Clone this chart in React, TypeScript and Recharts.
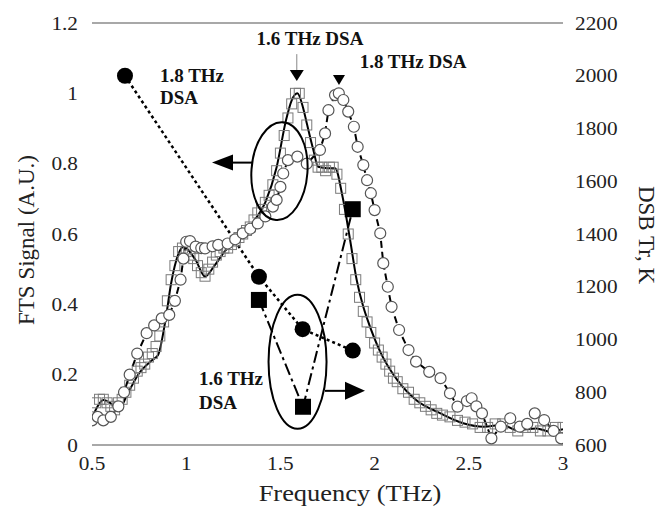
import { ComposedChart, Line, XAxis, YAxis, ReferenceLine, ReferenceDot } from 'recharts'

// FTS signal, 1.6 THz DSA: smoothed fit line (solid) [THz, A.U.]
const fit16: [number, number][] = [
  [0.5, 0.076], [0.53, 0.11], [0.56, 0.128], [0.6, 0.118], [0.64, 0.1], [0.69, 0.147],
  [0.75, 0.204], [0.82, 0.242], [0.85, 0.255], [0.89, 0.355], [0.92, 0.46], [0.96, 0.545],
  [0.985, 0.564], [1.05, 0.526], [1.1, 0.479], [1.15, 0.51], [1.21, 0.554], [1.28, 0.583],
  [1.35, 0.63], [1.42, 0.69], [1.48, 0.79], [1.53, 0.924], [1.56, 0.98], [1.59, 1.0],
  [1.62, 0.96], [1.64, 0.915], [1.675, 0.839], [1.7, 0.791], [1.75, 0.787], [1.79, 0.787],
  [1.83, 0.706], [1.87, 0.583], [1.905, 0.469], [1.94, 0.393], [1.96, 0.36], [2.03, 0.265],
  [2.12, 0.185], [2.22, 0.128], [2.35, 0.09], [2.47, 0.062], [2.58, 0.052], [2.68, 0.057],
  [2.75, 0.043], [2.86, 0.047], [2.93, 0.038], [3.0, 0.045],
]

// FTS signal, 1.6 THz DSA: measured points (open squares)
const meas16: [number, number][] = [
  [0.5, 0.08], [0.52, 0.12], [0.54, 0.13], [0.56, 0.13], [0.58, 0.12], [0.6, 0.11], [0.62, 0.1],
  [0.64, 0.12], [0.66, 0.13], [0.68, 0.15], [0.7, 0.17], [0.72, 0.19], [0.74, 0.21], [0.76, 0.22],
  [0.78, 0.23], [0.8, 0.25], [0.82, 0.26], [0.84, 0.28], [0.86, 0.31], [0.88, 0.35], [0.9, 0.41],
  [0.92, 0.47], [0.94, 0.51], [0.96, 0.55], [0.98, 0.56], [1.0, 0.55], [1.02, 0.54], [1.04, 0.53],
  [1.06, 0.51], [1.08, 0.49], [1.1, 0.48], [1.12, 0.5], [1.14, 0.52], [1.16, 0.54], [1.18, 0.55],
  [1.2, 0.56], [1.22, 0.56], [1.24, 0.57], [1.26, 0.58], [1.28, 0.59], [1.3, 0.6], [1.32, 0.61],
  [1.34, 0.62], [1.36, 0.64], [1.38, 0.66], [1.4, 0.67], [1.42, 0.69], [1.44, 0.71], [1.46, 0.74],
  [1.48, 0.78], [1.5, 0.83], [1.52, 0.88], [1.54, 0.93], [1.56, 0.97], [1.58, 1.0], [1.6, 1.0],
  [1.62, 0.96], [1.64, 0.91], [1.66, 0.86], [1.68, 0.81], [1.7, 0.79], [1.72, 0.79], [1.74, 0.78],
  [1.76, 0.79], [1.78, 0.79], [1.8, 0.77], [1.82, 0.73], [1.84, 0.67], [1.86, 0.6], [1.88, 0.53],
  [1.9, 0.47], [1.92, 0.42], [1.94, 0.38], [1.96, 0.35], [1.98, 0.32], [2.0, 0.29], [2.02, 0.27],
  [2.04, 0.25], [2.06, 0.23], [2.08, 0.21], [2.1, 0.19], [2.12, 0.18], [2.15, 0.16], [2.18, 0.15],
  [2.21, 0.13], [2.24, 0.12], [2.27, 0.11], [2.3, 0.1], [2.33, 0.09], [2.36, 0.085], [2.4, 0.08],
  [2.44, 0.07], [2.48, 0.065], [2.52, 0.06], [2.56, 0.05], [2.6, 0.05], [2.64, 0.06], [2.68, 0.06],
  [2.72, 0.05], [2.76, 0.04], [2.8, 0.05], [2.84, 0.05], [2.88, 0.04], [2.92, 0.04], [2.96, 0.05],
  [3.0, 0.05],
]

// FTS signal, 1.8 THz DSA (open circles, dashed)
const meas18: [number, number][] = [
  [0.5, 0.07], [0.53, 0.08], [0.56, 0.07], [0.6, 0.08], [0.64, 0.11], [0.67, 0.15], [0.7, 0.2],
  [0.74, 0.26], [0.79, 0.318], [0.83, 0.34], [0.87, 0.36], [0.91, 0.37], [0.94, 0.41], [0.97, 0.47],
  [0.985, 0.53], [1.0, 0.578], [1.02, 0.58], [1.05, 0.564], [1.08, 0.56], [1.1, 0.559], [1.14, 0.565],
  [1.17, 0.569], [1.22, 0.573], [1.26, 0.585], [1.3, 0.602], [1.34, 0.615], [1.38, 0.63], [1.42, 0.65],
  [1.46, 0.678], [1.48, 0.697], [1.5, 0.734], [1.515, 0.772], [1.54, 0.81], [1.59, 0.82], [1.64, 0.8],
  [1.71, 0.839], [1.737, 0.886], [1.755, 0.952], [1.79, 0.995], [1.81, 1.0], [1.834, 0.981],
  [1.86, 0.948], [1.89, 0.905], [1.91, 0.848], [1.94, 0.796], [1.96, 0.753], [1.98, 0.716],
  [2.0, 0.668], [2.03, 0.602], [2.046, 0.517], [2.07, 0.45], [2.09, 0.393], [2.13, 0.327],
  [2.18, 0.27], [2.22, 0.237], [2.29, 0.208], [2.35, 0.19], [2.4, 0.147], [2.44, 0.109],
  [2.49, 0.125], [2.515, 0.133], [2.54, 0.11], [2.57, 0.09], [2.62, 0.019], [2.67, 0.052],
  [2.72, 0.076], [2.77, 0.052], [2.81, 0.06], [2.85, 0.09], [2.9, 0.071], [2.95, 0.04], [2.99, 0.019],
]

// DSB receiver noise temperature [THz, K]
const tr18: [number, number][] = [[0.675, 2000], [1.386, 1238], [1.618, 1039], [1.884, 958]]
const tr16: [number, number][] = [[1.386, 1150], [1.62, 745], [1.884, 1494]]

const freqTicks = [0.5, 1, 1.5, 2, 2.5, 3]
const signalTicks = [0, 0.2, 0.4, 0.6, 0.8, 1, 1.2]
const trTicks = [600, 800, 1000, 1200, 1400, 1600, 1800, 2000, 2200]

// annotation anchors in data coordinates (left axis)
const upperEllipse = { f: 1.495, v: 0.779 }
const lowerEllipse = { f: 1.591, v: 0.237 }
const leftArrowTip = { f: 1.137, v: 0.803 }
const rightArrowTip = { f: 1.949, v: 0.154 }
const peak16 = { f: 1.587, v: 1.066 }
const peak18 = { f: 1.811, v: 1.052 }
const labels = [
  { text: '1.6 THz DSA', f: 1.657, v: 1.156, anchor: 'middle' },
  { text: '1.8 THz DSA', f: 2.204, v: 1.092, anchor: 'middle' },
  { text: '1.8 THz', f: 0.861, v: 1.052, anchor: 'start' },
  { text: 'DSA', f: 0.861, v: 0.989, anchor: 'start' },
  { text: '1.6 THz', f: 1.068, v: 0.19, anchor: 'start' },
  { text: 'DSA', f: 1.068, v: 0.122, anchor: 'start' },
]

const toRows = (pts: [number, number][]) => pts.map(([f, v]) => ({ f, v }))

const FONT = "'Liberation Serif', 'Times New Roman', Times, serif"

const makeTick = (anchor: string, dy: string) => (p: any) => (
  <text
    key={p.index}
    transform={`translate(${p.x},${p.y}) scale(1.12,1)`}
    textAnchor={anchor}
    dy={dy}
    style={{ fontFamily: FONT }}
    fontSize={19}
    fill="#222"
  >
    {p.payload.value}
  </text>
)

const squareDot = (p: any) =>
  p.cx == null ? <g key={p.index} /> : (
    <rect key={p.index} x={p.cx - 5} y={p.cy - 5} width={10} height={10} fill="none" stroke="#7a7a7a" strokeWidth={1} />
  )

const circleDot = (p: any) =>
  p.cx == null ? <g key={p.index} /> : (
    <circle key={p.index} cx={p.cx} cy={p.cy} r={5.5} fill="#fff" stroke="#555" strokeWidth={1.2} />
  )

const filledCircle = (p: any) =>
  p.cx == null ? <g key={p.index} /> : <circle key={p.index} cx={p.cx} cy={p.cy} r={8} fill="#000" />

const filledSquare = (p: any) =>
  p.cx == null ? <g key={p.index} /> : (
    <rect key={p.index} x={p.cx - 8} y={p.cy - 8} width={16} height={16} fill="#000" />
  )

export default function App() {
  return (
    <div style={{ position: 'absolute', left: 0, top: 0, width: 670, height: 512, background: '#fff' }}>
      <ComposedChart width={670} height={512} margin={{ top: 23, right: 0, bottom: 0, left: 0 }}>
        <XAxis
          dataKey="f"
          type="number"
          domain={[0.5, 3]}
          ticks={freqTicks}
          allowDataOverflow
          height={67}
          axisLine={{ stroke: '#a8a8a8', strokeWidth: 2 }}
          tickLine={false}
          tickMargin={6}
          tick={makeTick('middle', '0.71em')}
        />
        <YAxis
          yAxisId="l"
          orientation="left"
          width={92}
          domain={[0, 1.2]}
          ticks={signalTicks}
          axisLine={false}
          tickLine={false}
          tickMargin={8}
          tick={makeTick('end', '0.35em')}
        />
        <YAxis
          yAxisId="r"
          orientation="right"
          width={107}
          domain={[600, 2200]}
          ticks={trTicks}
          axisLine={false}
          tickLine={false}
          tickMargin={6}
          tick={makeTick('start', '0.35em')}
        />
        <ReferenceLine yAxisId="l" y={1.2} stroke="#a8a8a8" strokeWidth={2} />

        <Line yAxisId="l" data={toRows(meas16)} dataKey="v" stroke="none" dot={squareDot} isAnimationActive={false} />
        <Line yAxisId="l" data={toRows(meas18)} dataKey="v" stroke="none" dot={circleDot} isAnimationActive={false} />
        <Line
          yAxisId="l"
          data={toRows(meas18)}
          dataKey="v"
          type="linear"
          stroke="#000"
          strokeWidth={2}
          strokeDasharray="7 4"
          dot={false}
          isAnimationActive={false}
        />
        <Line
          yAxisId="l"
          data={toRows(fit16)}
          dataKey="v"
          type="monotone"
          stroke="#000"
          strokeWidth={2}
          dot={false}
          isAnimationActive={false}
        />

        <Line
          yAxisId="r"
          data={toRows(tr18)}
          dataKey="v"
          type="linear"
          stroke="#000"
          strokeWidth={2.5}
          strokeDasharray="3 3"
          dot={filledCircle}
          isAnimationActive={false}
        />
        <Line
          yAxisId="r"
          data={toRows(tr16)}
          dataKey="v"
          type="linear"
          stroke="#000"
          strokeWidth={2}
          strokeDasharray="12 4 3 4"
          dot={filledSquare}
          isAnimationActive={false}
        />

        <ReferenceDot
          yAxisId="l"
          x={upperEllipse.f}
          y={upperEllipse.v}
          r={1}
          shape={(p: any) => (
            <ellipse cx={p.cx} cy={p.cy} rx={28} ry={49} fill="none" stroke="#000" strokeWidth={2} transform={`rotate(4 ${p.cx} ${p.cy})`} />
          )}
        />
        <ReferenceDot
          yAxisId="l"
          x={lowerEllipse.f}
          y={lowerEllipse.v}
          r={1}
          shape={(p: any) => <ellipse cx={p.cx} cy={p.cy} rx={29} ry={67} fill="none" stroke="#000" strokeWidth={2} />}
        />
        <ReferenceDot
          yAxisId="l"
          x={leftArrowTip.f}
          y={leftArrowTip.v}
          r={1}
          shape={(p: any) => (
            <g>
              <line x1={p.cx + 18} y1={p.cy} x2={p.cx + 40} y2={p.cy} stroke="#000" strokeWidth={2} />
              <polygon points={`${p.cx},${p.cy} ${p.cx + 21},${p.cy - 8} ${p.cx + 21},${p.cy + 8}`} fill="#000" />
            </g>
          )}
        />
        <ReferenceDot
          yAxisId="l"
          x={rightArrowTip.f}
          y={rightArrowTip.v}
          r={1}
          shape={(p: any) => (
            <g>
              <line x1={p.cx - 40} y1={p.cy} x2={p.cx - 18} y2={p.cy} stroke="#000" strokeWidth={2} />
              <polygon points={`${p.cx},${p.cy} ${p.cx - 20},${p.cy - 9} ${p.cx - 20},${p.cy + 9}`} fill="#000" />
            </g>
          )}
        />
        <ReferenceDot
          yAxisId="l"
          x={peak16.f}
          y={peak16.v}
          r={1}
          shape={(p: any) => (
            <g>
              <line x1={p.cx} y1={p.cy - 16} x2={p.cx} y2={p.cy} stroke="#888" strokeWidth={1} />
              <polygon points={`${p.cx - 7},${p.cy} ${p.cx + 7},${p.cy} ${p.cx},${p.cy + 11}`} fill="#000" />
            </g>
          )}
        />
        <ReferenceDot
          yAxisId="l"
          x={peak18.f}
          y={peak18.v}
          r={1}
          shape={(p: any) => <polygon points={`${p.cx - 6},${p.cy} ${p.cx + 6},${p.cy} ${p.cx},${p.cy + 10}`} fill="#000" />}
        />
        {labels.map((l, i) => (
          <ReferenceDot
            key={i}
            yAxisId="l"
            x={l.f}
            y={l.v}
            r={1}
            shape={(p: any) => (
              <text
                x={p.cx}
                y={p.cy}
                dy="0.35em"
                textAnchor={l.anchor}
                style={{ fontFamily: FONT }}
                fontWeight="bold"
                fontSize={19}
                fill="#111"
              >
                {l.text}
              </text>
            )}
          />
        ))}
      </ComposedChart>
      <svg width={670} height={512} style={{ position: 'absolute', left: 0, top: 0, pointerEvents: 'none' }}>
        <text
          transform="translate(26,240) rotate(-90)"
          textAnchor="middle"
          dy="0.35em"
          style={{ fontFamily: FONT }}
          fontSize={23}
          fill="#222"
        >
          FTS Signal (A.U.)
        </text>
        <text
          transform="translate(647,235) rotate(90)"
          textAnchor="middle"
          dy="0.35em"
          style={{ fontFamily: FONT }}
          fontSize={23}
          fill="#222"
        >
          DSB Tr, K
        </text>
        <text
          transform="translate(350,493) scale(1.15,1)"
          textAnchor="middle"
          dy="0.35em"
          style={{ fontFamily: FONT }}
          fontSize={23}
          fill="#222"
        >
          Frequency (THz)
        </text>
      </svg>
    </div>
  )
}
